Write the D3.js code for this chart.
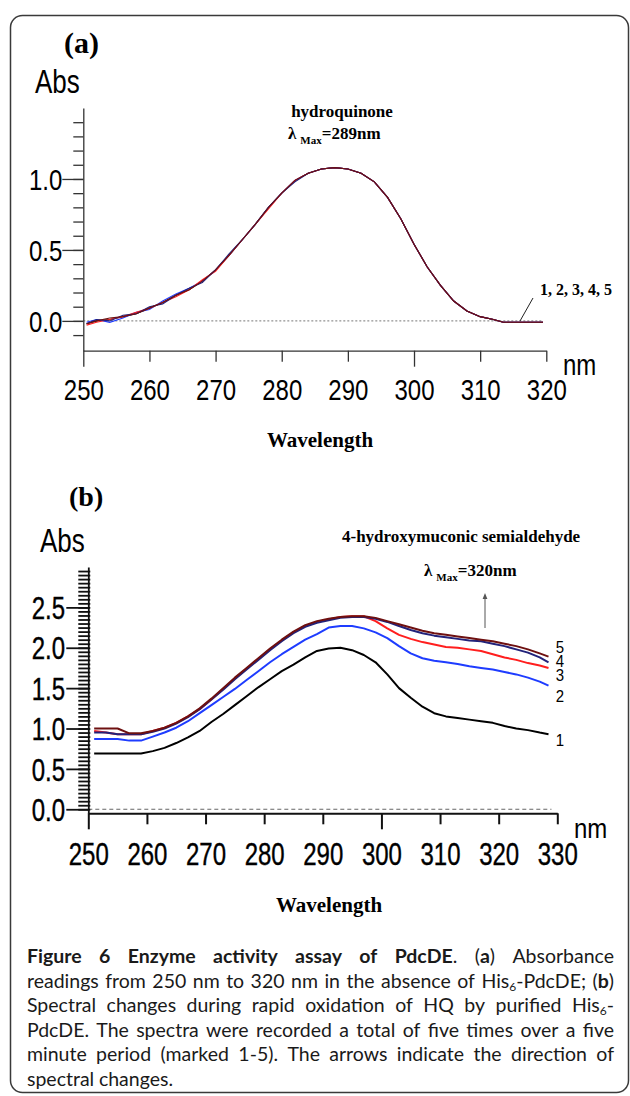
<!DOCTYPE html>
<html>
<head>
<meta charset="utf-8">
<script src="https://cdn.jsdelivr.net/npm/d3@7"></script>
<style>
  body { margin: 0; background: #fff; }
</style>
</head>
<body>
<div id="chart"></div>
<script>
// ---- data: panel (a), hydroquinone without enzyme ----
const wavelengthA = [250.5, 252, 254, 256, 258, 260, 262, 264, 266, 268, 270, 272, 274, 276, 278, 280, 282, 284,
  286, 288, 290, 292, 294, 296, 298, 300, 302, 304, 306, 308, 310, 312, 313.5, 316, 318, 319.5];
const absA1 = [-0.02, 0.00, 0.01, 0.03, 0.05, 0.09, 0.13, 0.18, 0.22, 0.28, 0.36, 0.46, 0.57, 0.68, 0.80, 0.90, 0.99, 1.04,
  1.07, 1.08, 1.07, 1.04, 0.98, 0.87, 0.72, 0.54, 0.38, 0.25, 0.14, 0.07, 0.03, 0.01, -0.01, -0.01, -0.01, -0.01];
const absA2 = [-0.01, 0.01, -0.01, 0.02, 0.06, 0.08, 0.14, 0.19, 0.23, 0.28, 0.36, 0.46, 0.57, 0.68, 0.80, 0.90, 0.99, 1.04,
  1.07, 1.08, 1.07, 1.04, 0.98, 0.87, 0.72, 0.54, 0.38, 0.25, 0.14, 0.07, 0.03, 0.01, -0.01, -0.01, -0.01, -0.01];
const absA3 = [-0.03, -0.01, 0.01, 0.03, 0.06, 0.09, 0.13, 0.17, 0.22, 0.29, 0.35, 0.46, 0.57, 0.68, 0.79, 0.90, 0.99, 1.04,
  1.07, 1.08, 1.07, 1.04, 0.98, 0.87, 0.72, 0.54, 0.38, 0.25, 0.14, 0.07, 0.03, 0.01, -0.01, -0.01, -0.01, -0.01];
const absA4 = [-0.02, 0.01, 0.00, 0.04, 0.05, 0.10, 0.12, 0.18, 0.23, 0.27, 0.36, 0.47, 0.57, 0.68, 0.80, 0.90, 0.98, 1.04,
  1.07, 1.08, 1.07, 1.04, 0.98, 0.87, 0.72, 0.54, 0.38, 0.25, 0.14, 0.07, 0.03, 0.01, -0.01, -0.01, -0.01, -0.01];
const absA5 = [-0.02, 0.00, 0.02, 0.03, 0.05, 0.09, 0.13, 0.18, 0.22, 0.28, 0.36, 0.46, 0.57, 0.68, 0.80, 0.90, 0.99, 1.04,
  1.07, 1.08, 1.07, 1.04, 0.98, 0.87, 0.72, 0.54, 0.38, 0.25, 0.14, 0.07, 0.03, 0.01, -0.01, -0.01, -0.01, -0.01];

// ---- data: panel (b), oxidation by His6-PdcDE, scans 1-5 ----
const wavelengthB = [251, 253, 255, 257, 259, 261, 263, 265, 267, 269, 271, 273, 275, 277, 279, 281, 283, 285, 287, 289,
  291, 293, 295, 297, 299, 301, 303, 305, 307, 309, 311, 313, 315, 317, 319, 321, 323, 325, 327, 328.5];
const absB1 = [0.69, 0.69, 0.69, 0.69, 0.69, 0.72, 0.76, 0.82, 0.89, 0.97, 1.08, 1.18, 1.29, 1.40, 1.51, 1.61, 1.71, 1.79, 1.88, 1.96,
  1.99, 2.00, 1.97, 1.91, 1.82, 1.67, 1.50, 1.38, 1.27, 1.19, 1.15, 1.13, 1.11, 1.09, 1.07, 1.03, 1.00, 0.98, 0.95, 0.93];
const absB2 = [0.87, 0.87, 0.87, 0.85, 0.85, 0.90, 0.95, 1.01, 1.09, 1.19, 1.29, 1.39, 1.49, 1.60, 1.71, 1.82, 1.92, 2.01, 2.10, 2.17,
  2.25, 2.27, 2.27, 2.24, 2.19, 2.12, 2.02, 1.93, 1.87, 1.84, 1.82, 1.80, 1.77, 1.75, 1.73, 1.70, 1.67, 1.63, 1.58, 1.53];
const absB3 = [0.97, 0.95, 0.93, 0.93, 0.93, 0.97, 1.01, 1.07, 1.15, 1.24, 1.36, 1.49, 1.62, 1.74, 1.86, 1.98, 2.09, 2.19, 2.27, 2.32,
  2.35, 2.38, 2.39, 2.39, 2.33, 2.24, 2.16, 2.11, 2.07, 2.04, 2.01, 2.00, 1.98, 1.96, 1.92, 1.88, 1.85, 1.81, 1.78, 1.75];
const absB4 = [0.95, 0.95, 0.93, 0.93, 0.93, 0.96, 1.00, 1.06, 1.14, 1.24, 1.36, 1.48, 1.61, 1.73, 1.85, 1.97, 2.08, 2.18, 2.26, 2.31,
  2.34, 2.37, 2.38, 2.38, 2.36, 2.32, 2.27, 2.22, 2.18, 2.15, 2.13, 2.11, 2.09, 2.08, 2.05, 2.02, 1.98, 1.94, 1.88, 1.82];
const absB5 = [1.00, 1.00, 1.00, 0.94, 0.94, 0.97, 1.01, 1.07, 1.15, 1.25, 1.37, 1.50, 1.63, 1.75, 1.87, 1.99, 2.10, 2.20, 2.28, 2.33,
  2.36, 2.38, 2.39, 2.39, 2.37, 2.33, 2.29, 2.25, 2.21, 2.18, 2.16, 2.14, 2.12, 2.10, 2.08, 2.05, 2.02, 1.98, 1.93, 1.89];

const scanNames = ["1", "2", "3", "4", "5"];
const scanColors = ["#000000", "#1e3cff", "#ff1e1e", "#22227a", "#6e1010"];

// ---- ticks / labels ----
const xTicksA = [250, 260, 270, 280, 290, 300, 310, 320];
const yLabelsA = [0, 0.5, 1.0];
const xTicksB = [250, 260, 270, 280, 290, 300, 310, 320, 330];
const yLabelsB = [0, 0.5, 1.0, 1.5, 2.0, 2.5];

const captionLines = [
  "*Figure 6 Enzyme activity assay of PdcDE*. (*a*) Absorbance",
  "readings from 250 nm to 320 nm in the absence of His~6~-PdcDE; (*b*)",
  "Spectral changes during rapid oxidation of HQ by purified His~6~-",
  "PdcDE. The spectra were recorded a total of five times over a five",
  "minute period (marked 1-5). The arrows indicate the direction of",
  "spectral changes."
];

// -------------------------------
const W = 630, H = 1096;
const SANS = "'Liberation Sans', Arial, sans-serif";
const SERIF = "'Liberation Serif', 'Times New Roman', serif";

const svg = d3.select("#chart").append("svg")
  .attr("width", W).attr("height", H)
  .attr("viewBox", `0 0 ${W} ${H}`);

// frame
svg.append("rect")
  .attr("x", 10.5).attr("y", 15.5)
  .attr("width", 618).attr("height", 1077)
  .attr("rx", 12)
  .attr("fill", "none").attr("stroke", "#3a3a3a").attr("stroke-width", 1.5);

// arrow marker
svg.append("defs").append("marker")
  .attr("id", "arr").attr("viewBox", "0 0 10 10")
  .attr("refX", 5).attr("refY", 5)
  .attr("markerWidth", 6).attr("markerHeight", 6)
  .attr("orient", "auto-start-reverse")
  .append("path").attr("d", "M0,1 L10,5 L0,9 z").attr("fill", "#555");

// text stretched vertically (the figure fonts are tall and narrow)
function tallText(x, y, str, size, s, opts = {}) {
  return svg.append("text")
    .attr("x", x).attr("y", y / s)
    .attr("transform", `scale(1,${s})`)
    .attr("font-family", opts.family || SANS)
    .attr("font-weight", opts.weight || "normal")
    .attr("font-size", size)
    .attr("text-anchor", opts.anchor || "start")
    .attr("fill", "#000")
    .text(str);
}

function lambdaLabel(x, y, value) {
  const t = svg.append("text")
    .attr("x", x).attr("y", y)
    .attr("font-family", SERIF).attr("font-weight", "bold")
    .attr("font-size", 17).attr("fill", "#000");
  t.append("tspan").text("λ");
  t.append("tspan").attr("dx", 4).attr("dy", 5).attr("font-size", 11).text("Max");
  t.append("tspan").attr("dy", -5).text("=" + value);
}

// ================= panel (a) =================
const xA = d3.scaleLinear().domain([250, 320]).range([83.3, 546.3]);
const yA = d3.scaleLinear().domain([-0.21, 1.5]).range([350.7, 108]);

// zero line
svg.append("line")
  .attr("x1", xA(250)).attr("x2", xA(319.5))
  .attr("y1", yA(0)).attr("y2", yA(0))
  .attr("stroke", "#777").attr("stroke-width", 1).attr("stroke-dasharray", "2,2");

// y axis, minor ticks + line
const minorA = d3.range(-0.1, 1.45, 0.1).map(v => +v.toFixed(2));
svg.append("g")
  .attr("transform", `translate(${xA(250)},0)`)
  .call(d3.axisLeft(yA).tickValues(minorA).tickSize(10).tickSizeOuter(0).tickFormat(""))
  .call(g => g.selectAll("path, line").attr("stroke", "#333").attr("stroke-width", 1.3));

// y axis, labelled ticks
svg.append("g")
  .attr("transform", `translate(${xA(250)},0)`)
  .call(d3.axisLeft(yA).tickValues(yLabelsA).tickSize(21).tickFormat(d3.format(".1f")))
  .call(g => g.select(".domain").remove())
  .call(g => g.selectAll("line").attr("stroke", "#333").attr("stroke-width", 1.3))
  .call(g => g.selectAll("text")
    .attr("font-family", SANS).attr("font-size", 24).attr("fill", "#000")
    .attr("x", -21).attr("y", 0).attr("dy", "0.36em")
    .attr("transform", "scale(1,1.22)"));

// x axis
svg.append("g")
  .attr("transform", `translate(0,${yA(-0.21)})`)
  .call(d3.axisBottom(xA).tickValues(xTicksA).tickSize(11).tickSizeOuter(0))
  .call(g => g.selectAll("path, line").attr("stroke", "#333").attr("stroke-width", 1.3))
  .call(g => g.selectAll(".tick line").attr("y2", d => d % 50 === 0 ? 16 : 11))
  .call(g => g.selectAll("text")
    .attr("font-family", SANS).attr("font-size", 24).attr("fill", "#000")
    .attr("y", 49.3 / 1.22).attr("dy", 0)
    .attr("transform", "scale(1,1.22)"));

// spectra
const seriesA = [absA1, absA2, absA3, absA4, absA5].map((vals, i) => ({
  name: scanNames[i], color: scanColors[i],
  pts: vals.map((v, j) => ({ w: wavelengthA[j], v }))
}));
const lineA = d3.line().x(d => xA(d.w)).y(d => yA(d.v));
svg.append("g").selectAll("path")
  .data(seriesA)
  .enter().append("path")
  .attr("d", d => lineA(d.pts))
  .attr("fill", "none")
  .attr("stroke", d => d.color)
  .attr("stroke-width", 1.1);

// labels (a)
svg.append("text").attr("x", 64).attr("y", 53)
  .attr("font-family", SERIF).attr("font-weight", "bold").attr("font-size", 30).text("(a)");
tallText(35, 93, "Abs", 26, 1.25);
tallText(563, 375, "nm", 24, 1.25);
svg.append("text").attr("x", 342).attr("y", 117).attr("text-anchor", "middle")
  .attr("font-family", SERIF).attr("font-weight", "bold").attr("font-size", 17).text("hydroquinone");
lambdaLabel(288, 139, "289nm");
svg.append("text").attr("x", 540).attr("y", 295)
  .attr("font-family", SERIF).attr("font-weight", "bold").attr("font-size", 16).text("1, 2, 3, 4, 5");
svg.append("line").attr("x1", 533).attr("y1", 298).attr("x2", 520).attr("y2", 321)
  .attr("stroke", "#222").attr("stroke-width", 1);
svg.append("text").attr("x", 320).attr("y", 447).attr("text-anchor", "middle")
  .attr("font-family", SERIF).attr("font-weight", "bold").attr("font-size", 21).text("Wavelength");

// ================= panel (b) =================
const xB = d3.scaleLinear().domain([250, 330]).range([88.3, 557.3]);
const yB = d3.scaleLinear().domain([-0.05, 3.0]).range([813.3, 567]);

svg.append("line")
  .attr("x1", xB(250)).attr("x2", xB(329))
  .attr("y1", yB(0)).attr("y2", yB(0))
  .attr("stroke", "#666").attr("stroke-width", 1).attr("stroke-dasharray", "4,3");

const minorB = d3.range(0, 2.96, 0.05).map(v => +v.toFixed(2));
svg.append("g")
  .attr("transform", `translate(${xB(250)},0)`)
  .call(d3.axisLeft(yB).tickValues(minorB).tickSize(10).tickSizeOuter(0).tickFormat(""))
  .call(g => g.selectAll("path, line").attr("stroke", "#111").attr("stroke-width", 1.8))
  .call(g => g.selectAll(".tick line").attr("x1", 2));

svg.append("g")
  .attr("transform", `translate(${xB(250)},0)`)
  .call(d3.axisLeft(yB).tickValues(yLabelsB).tickSize(22).tickFormat(d3.format(".1f")))
  .call(g => g.select(".domain").remove())
  .call(g => g.selectAll("line").attr("stroke", "#111").attr("stroke-width", 1.8))
  .call(g => g.selectAll("text")
    .attr("font-family", SANS).attr("font-size", 24).attr("fill", "#000")
    .attr("stroke", "#000").attr("stroke-width", 0.3)
    .attr("x", -23.3).attr("y", 0).attr("dy", "0.36em")
    .attr("transform", "scale(1,1.3)"));

svg.append("g")
  .attr("transform", `translate(0,${yB(-0.05)})`)
  .call(d3.axisBottom(xB).tickValues(xTicksB).tickSize(11).tickSizeOuter(0))
  .call(g => g.selectAll("path, line").attr("stroke", "#111").attr("stroke-width", 2))
  .call(g => g.selectAll(".tick line").attr("y2", d => d % 50 === 0 ? 16 : 11))
  .call(g => g.selectAll("text")
    .attr("font-family", SANS).attr("font-size", 24).attr("fill", "#000")
    .attr("stroke", "#000").attr("stroke-width", 0.3)
    .attr("y", 51.7 / 1.3).attr("dy", 0)
    .attr("transform", "scale(1,1.3)"));

const seriesB = [absB1, absB2, absB3, absB4, absB5].map((vals, i) => ({
  name: scanNames[i], color: scanColors[i],
  pts: vals.map((v, j) => ({ w: wavelengthB[j], v }))
}));
const lineB = d3.line().x(d => xB(d.w)).y(d => yB(d.v));
svg.append("g").selectAll("path")
  .data(seriesB)
  .enter().append("path")
  .attr("d", d => lineB(d.pts))
  .attr("fill", "none")
  .attr("stroke", d => d.color)
  .attr("stroke-width", 2)
  .attr("stroke-linejoin", "round");

// scan numbers stacked at the right end
const scanLabelY = [746, 702, 681, 667, 653];
seriesB.forEach((s, i) => tallText(560, scanLabelY[i], s.name, 15, 1.15, { anchor: "middle" }));

svg.append("text").attr("x", 69).attr("y", 506)
  .attr("font-family", SERIF).attr("font-weight", "bold").attr("font-size", 28).text("(b)");
tallText(40, 552, "Abs", 26, 1.3);
tallText(574, 838, "nm", 24, 1.15);
svg.append("text").attr("x", 342).attr("y", 542)
  .attr("font-family", SERIF).attr("font-weight", "bold").attr("font-size", 17)
  .text("4-hydroxymuconic semialdehyde");
lambdaLabel(424, 576, "320nm");
svg.append("line").attr("x1", 485).attr("y1", 628).attr("x2", 485).attr("y2", 596)
  .attr("stroke", "#555").attr("stroke-width", 1).attr("marker-end", "url(#arr)");
svg.append("text").attr("x", 329).attr("y", 912).attr("text-anchor", "middle")
  .attr("font-family", SERIF).attr("font-weight", "bold").attr("font-size", 21).text("Wavelength");

// ================= caption =================
const capLeft = 27, capRight = 614, capTop = 963, capStep = 24.6, capSize = 19.5;

function parseLine(str) {
  const words = [];
  let word = [], bold = false, sub = false, run = "";
  const flush = () => { if (run) word.push({ t: run, bold, sub }); run = ""; };
  for (const ch of str) {
    if (ch === "*") { flush(); bold = !bold; }
    else if (ch === "~") { flush(); sub = !sub; }
    else if (ch === " ") { flush(); if (word.length) words.push(word); word = []; }
    else run += ch;
  }
  flush();
  if (word.length) words.push(word);
  return words;
}

const capG = svg.append("g").attr("font-family", "Lato, 'Open Sans', sans-serif").attr("font-size", capSize);
captionLines.forEach((line, li) => {
  const y = capTop + li * capStep;
  const words = parseLine(line);
  const nodes = words.map(runs => {
    const t = capG.append("text").attr("y", y).attr("fill", "#1a1a1a");
    let shifted = false;
    runs.forEach(r => {
      const ts = t.append("tspan").text(r.t)
        .attr("font-weight", r.bold ? "bold" : "normal");
      if (r.sub) { ts.attr("font-size", 12).attr("dy", 3); shifted = true; }
      else if (shifted) { ts.attr("dy", -3); shifted = false; }
    });
    return t;
  });
  const widths = nodes.map(n => n.node().getComputedTextLength());
  const total = d3.sum(widths);
  const space = capSize * 0.24;
  const justify = li < captionLines.length - 1 && nodes.length > 1;
  const gap = justify ? (capRight - capLeft - total) / (nodes.length - 1) : space;
  let x = capLeft;
  nodes.forEach((n, i) => { n.attr("x", x); x += widths[i] + gap; });
});
</script>
</body>
</html>
